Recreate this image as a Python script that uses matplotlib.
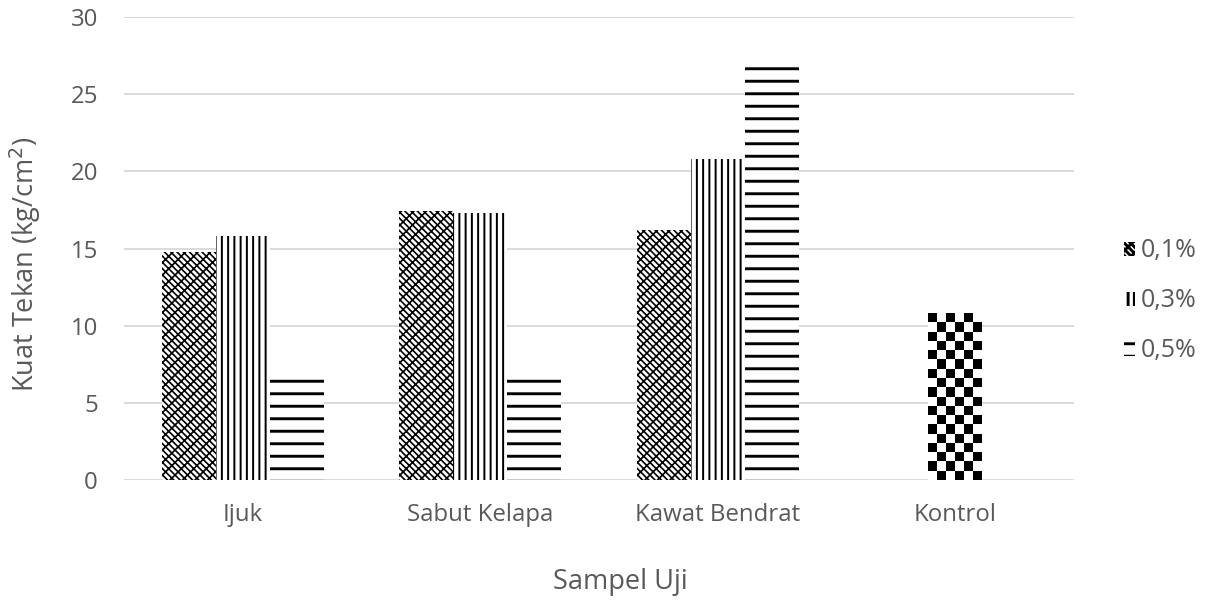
import numpy as np
import matplotlib
matplotlib.use("Agg")
import matplotlib.pyplot as plt

# data
categories = ["Ijuk", "Sabut Kelapa", "Kawat Bendrat", "Kontrol"]
series_labels = ["0,1%", "0,3%", "0,5%"]
val_01 = [14.8, 17.4, 16.2]
val_03 = [15.8, 17.3, 20.8]
val_05 = [6.7, 6.7, 26.8]
kontrol = [10.8]
yticks = [0, 5, 10, 15, 20, 25, 30]

plt.rcParams["font.family"] = ["Open Sans", "DejaVu Sans"]
txt = "#595959"
grid = "#d9d9d9"

# dpi 75 so one hatch unit (1 inch) is 75 px -> '-' lines every 12.5 px
fig = plt.figure(figsize=(1211 / 75, 600 / 75), dpi=75)
ax = fig.add_axes([124 / 1211, 1 - 480 / 600, (1074 - 124) / 1211, (480 - 17) / 600])

w = 0.227
x = np.arange(3)

plt.rcParams["hatch.linewidth"] = 1.6
b1 = ax.bar(x - w, val_01, w, color="white", edgecolor="black", linewidth=0,
            hatch="xx\\\\", label=series_labels[0], zorder=2)
plt.rcParams["hatch.linewidth"] = 1.9
b2 = ax.bar(x, val_03, w, color="white", edgecolor="black", linewidth=0,
            hatch="||", label=series_labels[1], zorder=2)
plt.rcParams["hatch.linewidth"] = 2.8
b3 = ax.bar(x + w, val_05, w, color="white", edgecolor="black", linewidth=0,
            hatch="-", label=series_labels[2], zorder=2)

# kontrol bar with a checkerboard fill
bk = ax.bar([3], kontrol, w, color="white", linewidth=0, zorder=2)
p = bk[0]
ncol = 6
nrow = int(round(kontrol[0] / 0.6))
checker = (np.indices((nrow, ncol)).sum(axis=0) % 2).astype(float)
im = ax.imshow(checker, cmap="gray_r", interpolation="nearest", aspect="auto",
               extent=[p.get_x(), p.get_x() + p.get_width(), 0, p.get_height()],
               origin="lower", zorder=3)
im.set_clip_path(p)

ax.set_xlim(-0.5, 3.5)
ax.set_ylim(0, 30)
ax.set_yticks(yticks)
ax.set_xticks(np.arange(4))
ax.set_xticklabels(categories)
ax.tick_params(axis="both", length=0, labelsize=23, labelcolor=txt)
ax.tick_params(axis="x", pad=22)
ax.tick_params(axis="y", pad=25)
ax.yaxis.grid(True, color=grid, linewidth=1.8, zorder=0)
ax.set_axisbelow(True)
for s in ax.spines.values():
    s.set_visible(False)

fig.text(25 / 1211, 1 - 264 / 600, "Kuat Tekan (kg/cm$^2$)", fontsize=26,
         color=txt, rotation=90, ha="center", va="center")
fig.text(620 / 1211, 1 - 582 / 600, "Sampel Uji", fontsize=26, color=txt,
         ha="center", va="center")

leg = ax.legend(handles=[b1, b2, b3], loc="center left",
                bbox_to_anchor=(1111 / 1211, 1 - 301 / 600),
                bbox_transform=fig.transFigure, frameon=False, borderpad=0,
                fontsize=24, labelcolor=txt, handlelength=0.45,
                handleheight=0.5, handletextpad=0.25, labelspacing=1.0)

fig.savefig("out.png", dpi=75)
